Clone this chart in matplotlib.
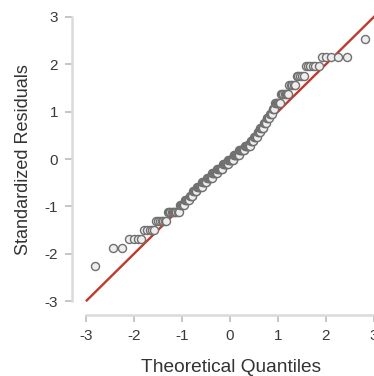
import numpy as np
import matplotlib
matplotlib.use("Agg")
import matplotlib.pyplot as plt
from statistics import NormalDist

# Standardized residual values (as read) and how many observations sit at each
residual_levels = [-2.26, -1.88, -1.69, -1.49, -1.30, -1.11,
                   -0.97, -0.87, -0.78, -0.68, -0.59, -0.49, -0.39, -0.30,
                   -0.20, -0.10, -0.01, 0.09, 0.18, 0.28, 0.37, 0.47,
                   0.56, 0.66, 0.76, 0.86, 0.95, 1.05,
                   1.19, 1.38, 1.57, 1.76, 1.96, 2.15, 2.53]
level_counts = [1, 2, 4, 5, 7, 10,
                5, 6, 4, 5, 7, 7, 8, 8,
                9, 9, 9, 9, 9, 9, 5, 5,
                4, 5, 3, 4, 3, 3,
                6, 7, 5, 5, 6, 5, 1]

x_ticks = [-3, -2, -1, 0, 1, 2, 3]
y_ticks = [-3, -2, -1, 0, 1, 2, 3]
x_label = "Theoretical Quantiles"
y_label = "Standardized Residuals"

resid = np.sort(np.repeat(residual_levels, level_counts))
n = len(resid)
nd = NormalDist()
theo = np.array([nd.inv_cdf((i - 0.5) / n) for i in range(1, n + 1)])

plt.rcParams['font.family'] = ['Liberation Sans', 'DejaVu Sans']

fig = plt.figure(figsize=(3.74, 3.76), dpi=100)
ax = fig.add_axes([72 / 374, 1 - 315 / 376, (374 - 72) / 374, (315 - 9.7) / 376])
ax.set_xlim(-3.29, 3.0)
ax.set_ylim(-3.29, 3.15)

ax.plot([-3, 3.5], [-3, 3.5], color='#c0392b', lw=1.7, zorder=1, solid_capstyle='butt')
ax.plot(theo, resid, linestyle='none', marker='o', markersize=5.8,
        markerfacecolor='#eeeeee', markeredgecolor='#707070', markeredgewidth=1.0,
        zorder=2)

for s in ['top', 'right']:
    ax.spines[s].set_visible(False)
for s in ['left', 'bottom']:
    ax.spines[s].set_color('#dadada')
    ax.spines[s].set_linewidth(1.8)
ax.spines['left'].set_bounds(-3, 3)
ax.spines['bottom'].set_bounds(-3, 3)

ax.set_xticks(x_ticks)
ax.set_yticks(y_ticks)
ax.tick_params(axis='both', colors='#bbbbbb', length=5, width=1.2, labelcolor='#3a3a3a',
               labelsize=11, pad=5)
ax.set_xticklabels([str(t) for t in x_ticks])
ax.set_yticklabels([str(t) for t in y_ticks])

ax.set_xlabel(x_label, fontsize=13.8, color='#333333')
ax.set_ylabel(y_label, fontsize=13.0, color='#333333')
ax.xaxis.set_label_coords((231 - 72) / 302, -(367 - 315) / 305.3, transform=ax.transAxes)
ax.yaxis.set_label_coords(-(72 - 23.5) / 302, (315 - 160) / 305.3, transform=ax.transAxes)
ax.xaxis.label.set_va('center')
ax.yaxis.label.set_va('center')

fig.savefig("out.png", dpi=100)
